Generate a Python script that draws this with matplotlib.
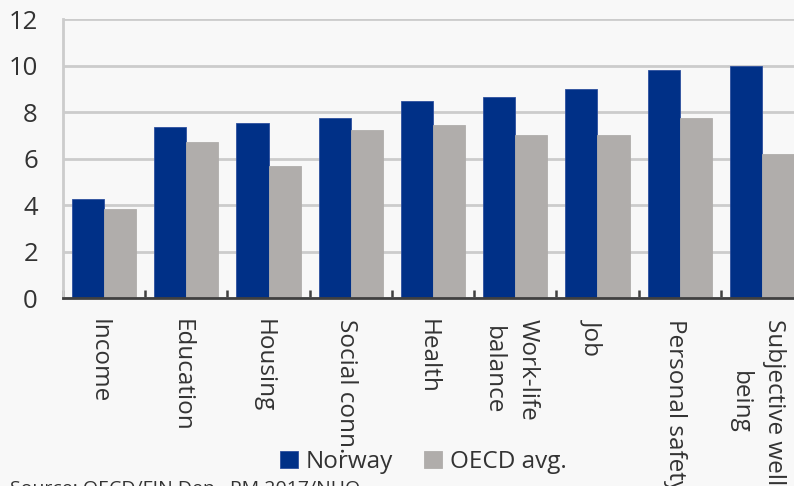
import numpy as np
import matplotlib.pyplot as plt
from matplotlib.transforms import ScaledTranslation

plt.rcParams['font.family'] = ['Open Sans', 'DejaVu Sans']

categories = ['Income', 'Education', 'Housing', 'Social conn.', 'Health',
              'Work-life\nbalance', 'Job', 'Personal safety',
              'Subjective well\nbeing']
norway = [4.24, 7.34, 7.54, 7.74, 8.46, 8.66, 8.97, 9.79, 10.0]
oecd = [3.82, 6.71, 5.69, 7.22, 7.42, 7.02, 7.02, 7.74, 6.19]

blue = '#003087'
grey = '#b0adab'
bg = '#f8f8f8'
txt = '#333333'

W, H = 794, 486
fig = plt.figure(figsize=(W / 100, H / 100), dpi=100, facecolor=bg)
# axes runs a little past the right edge of the figure
ax = fig.add_axes([63 / W, (H - 298) / H, 740 / W, (298 - 19) / H], facecolor=bg)

x = np.arange(len(categories))
w = 0.39
ax.bar(x - w / 2, norway, w, color=blue, edgecolor='#2d4f9e', linewidth=0.6,
       label='Norway', zorder=3)
ax.bar(x + w / 2, oecd, w, color=grey, edgecolor=grey, linewidth=0.6,
       label='OECD avg.', zorder=3)

ax.set_xlim(-0.5, len(categories) - 0.5)
ax.set_ylim(0, 12)
ax.set_yticks(range(0, 13, 2))
ax.yaxis.grid(True, color='#cccccc', linewidth=2, zorder=0)
ax.set_axisbelow(True)

for side in ['top', 'right']:
    ax.spines[side].set_visible(False)
ax.spines['left'].set_color('#cccccc')
ax.spines['left'].set_linewidth(2)
ax.spines['bottom'].set_color('#404040')
ax.spines['bottom'].set_linewidth(2)
ax.spines['bottom'].set_zorder(4)

ax.tick_params(axis='y', length=0, pad=18, labelsize=18.5, labelcolor=txt)
ax.set_xticks(x)
ax.set_xticklabels(categories, rotation=-90, ha='center', va='top',
                   multialignment='center', fontsize=17.5, color=txt,
                   linespacing=1.6)
ax.tick_params(axis='x', which='major', length=0, pad=15)
ax.set_xticks(np.arange(-0.5, len(categories), 1), minor=True)
ax.tick_params(axis='x', which='minor', direction='in', length=6, width=1.8,
               color='#404040')

# nudge the rotated labels a few pixels to the left
shift = ScaledTranslation(-5 / 100, 0, fig.dpi_scale_trans)
for lab in ax.get_xticklabels():
    lab.set_transform(lab.get_transform() + shift)

leg = fig.legend(loc='center', bbox_to_anchor=(423 / W, 1 - 462 / H), ncol=2,
                 frameon=False, fontsize=17.5, handlelength=0.75,
                 handleheight=0.75, handletextpad=0.3, columnspacing=1.3,
                 borderpad=0)
for t in leg.get_texts():
    t.set_color(txt)

fig.text(10 / W, 1 - 480 / H, 'Source: OECD/FIN Dep., PM 2017/NHO',
         fontsize=14, color=txt, va='top', ha='left')

fig.savefig('out.png', dpi=100, facecolor=bg)
